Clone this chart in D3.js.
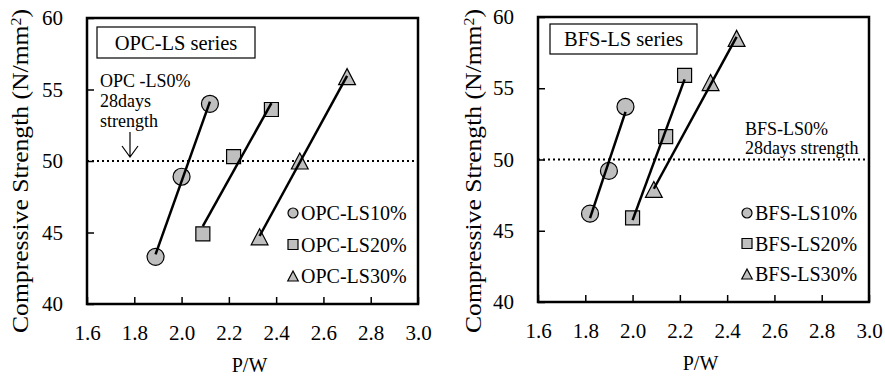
<!DOCTYPE html>
<html>
<head>
<meta charset="utf-8">
<script src="https://cdn.jsdelivr.net/npm/d3@7"></script>
<style>
  html, body { margin: 0; padding: 0; background: #fff; }
  svg text { font-family: "Liberation Serif", "Times New Roman", serif; fill: #000; }
</style>
</head>
<body>
<div id="container"></div>
<script>
// tick values
const xTicks = [1.6, 1.8, 2.0, 2.2, 2.4, 2.6, 2.8, 3.0]
const yTicks = [40, 45, 50, 55, 60]
const refStrength = 50

// OPC-LS series (P/W, strength)
const opc10X = [1.89, 2.00, 2.12]
const opc10Y = [43.3, 48.9, 54.0]
const opc20X = [2.09, 2.22, 2.38]
const opc20Y = [44.9, 50.3, 53.6]
const opc30X = [2.33, 2.50, 2.70]
const opc30Y = [44.7, 50.0, 55.9]

// BFS-LS series
const bfs10X = [1.82, 1.90, 1.97]
const bfs10Y = [46.2, 49.2, 53.7]
const bfs20X = [2.00, 2.14, 2.22]
const bfs20Y = [45.9, 51.6, 55.9]
const bfs30X = [2.09, 2.33, 2.44]
const bfs30Y = [47.9, 55.4, 58.5]

const opcNames = ['OPC-LS10%', 'OPC-LS20%', 'OPC-LS30%']
const bfsNames = ['BFS-LS10%', 'BFS-LS20%', 'BFS-LS30%']
const shapes = ['circle', 'square', 'triangle']

const config = {
    width: 885,
    height: 376,
    fill: '#bfbfbf',
}

const svg = d3.select('#container')
    .append('svg')
    .attr('width', config.width)
    .attr('height', config.height)

const zip = (xs, ys) => xs.map((x, i) => ({x: x, y: ys[i]}))

// least squares fit, drawn over the x-range of the points
const fitLine = (pts) => {
    const mx = d3.mean(pts, p => p.x)
    const my = d3.mean(pts, p => p.y)
    const b = d3.sum(pts, p => (p.x - mx) * (p.y - my)) / d3.sum(pts, p => (p.x - mx) ** 2)
    const a = my - b * mx
    const [x0, x1] = d3.extent(pts, p => p.x)
    return [{x: x0, y: a + b * x0}, {x: x1, y: a + b * x1}]
}

const markerPath = (shape, s) => {
    if (shape === 'circle') {
        const r = s / 2
        return `M${-r},0A${r},${r} 0 1,0 ${r},0A${r},${r} 0 1,0 ${-r},0Z`
    }
    if (shape === 'square') {
        const h = s / 2
        return `M${-h},${-h}H${h}V${h}H${-h}Z`
    }
    const w = s * 1.05, h = s
    return `M0,${-h / 2}L${w / 2},${h / 2}L${-w / 2},${h / 2}Z`
}

const markerSize = {circle: 17, square: 14, triangle: 16}
const legendSize = {circle: 10, square: 10, triangle: 10}

const drawPanel = (p) => {
    const xScale = d3.scaleLinear().domain([1.6, 3.0]).range([p.x0, p.x1])
    const yScale = d3.scaleLinear().domain([40, 60]).range([p.y1, p.y0])
    const g = svg.append('g')

    // axes with inward ticks
    const xAxis = g.append('g')
        .attr('transform', `translate(0,${p.y1})`)
        .call(d3.axisBottom(xScale).tickValues(xTicks).tickFormat(d3.format('.1f'))
            .tickSize(-7).tickPadding(21))
    const yAxis = g.append('g')
        .attr('transform', `translate(${p.x0},0)`)
        .call(d3.axisLeft(yScale).tickValues(yTicks).tickSize(-7).tickPadding(24))
    for (const ax of [xAxis, yAxis]) {
        ax.select('.domain').remove()
        ax.selectAll('.tick line').attr('stroke', '#000').attr('stroke-width', 1.5)
        ax.selectAll('.tick text')
            .style('font-family', '"Liberation Serif", serif')
            .style('font-size', '21px')
            .attr('fill', '#000')
    }

    // reference line
    g.append('line')
        .attr('x1', p.x0).attr('x2', p.x1)
        .attr('y1', yScale(refStrength)).attr('y2', yScale(refStrength))
        .attr('stroke', '#000')
        .attr('stroke-width', 2.2)
        .attr('stroke-dasharray', '2,3')

    // frame
    g.append('rect')
        .attr('x', p.x0).attr('y', p.y0)
        .attr('width', p.x1 - p.x0).attr('height', p.y1 - p.y0)
        .attr('fill', 'none')
        .attr('stroke', '#000')
        .attr('stroke-width', 2.5)

    // series markers
    p.series.forEach((pts, i) => {
        g.append('g')
            .selectAll('path')
            .data(pts)
            .join('path')
            .attr('transform', d => `translate(${xScale(d.x)},${yScale(d.y)})`)
            .attr('d', markerPath(shapes[i], markerSize[shapes[i]]))
            .attr('fill', config.fill)
            .attr('stroke', '#000')
            .attr('stroke-width', 1.2)
    })

    // fit lines on top of markers
    p.series.forEach(pts => {
        g.append('path')
            .datum(fitLine(pts))
            .attr('d', d3.line().x(d => xScale(d.x)).y(d => yScale(d.y)))
            .attr('fill', 'none')
            .attr('stroke', '#000')
            .attr('stroke-width', 2.5)
    })

    // title box
    g.append('rect')
        .attr('x', p.box[0]).attr('y', p.box[1])
        .attr('width', p.box[2]).attr('height', p.box[3])
        .attr('fill', '#fff')
        .attr('stroke', '#000')
        .attr('stroke-width', 1.2)
    g.append('text')
        .attr('x', p.box[0] + p.box[2] / 2)
        .attr('y', p.box[1] + p.box[3] / 2)
        .attr('text-anchor', 'middle')
        .attr('dominant-baseline', 'central')
        .style('font-size', '20.5px')
        .text(p.title)

    // legend
    p.names.forEach((name, i) => {
        const cy = p.legend.y + i * p.legend.step
        g.append('path')
            .attr('transform', `translate(${p.legend.x},${cy})`)
            .attr('d', markerPath(shapes[i], legendSize[shapes[i]]))
            .attr('fill', config.fill)
            .attr('stroke', '#000')
            .attr('stroke-width', 1.2)
        g.append('text')
            .attr('x', p.legend.x + 8)
            .attr('y', cy)
            .attr('dominant-baseline', 'central')
            .style('font-size', '20px')
            .text(name)
    })

    // axis titles
    g.append('text')
        .attr('x', (p.x0 + p.x1) / 2 - 3)
        .attr('y', p.y1 + 68)
        .attr('text-anchor', 'middle')
        .style('font-size', '20px')
        .text('P/W')
    const yt = g.append('text')
        .attr('transform', `translate(${p.ytx},171) rotate(-90) scale(1.14,1)`)
        .attr('text-anchor', 'middle')
        .style('font-size', '22.5px')
    yt.append('tspan').text('Compressive Strength (N/mm')
    yt.append('tspan').attr('baseline-shift', 'super').style('font-size', '14px').text('2')
    yt.append('tspan').text(')')

    return {g, xScale, yScale}
}

const left = drawPanel({
    x0: 87, x1: 418, y0: 18, y1: 304,
    series: [zip(opc10X, opc10Y), zip(opc20X, opc20Y), zip(opc30X, opc30Y)],
    names: opcNames,
    title: 'OPC-LS series',
    box: [97, 27, 158, 31],
    legend: {x: 293, y: 213, step: 31.5},
    ytx: 28,
})

const right = drawPanel({
    x0: 538, x1: 869, y0: 17, y1: 302,
    series: [zip(bfs10X, bfs10Y), zip(bfs20X, bfs20Y), zip(bfs30X, bfs30Y)],
    names: bfsNames,
    title: 'BFS-LS series',
    box: [550, 24, 147, 30],
    legend: {x: 747, y: 213, step: 30.5},
    ytx: 481,
})

// reference annotations
const noteLeft = left.g.append('text')
    .attr('x', 100)
    .attr('y', 87)
    .style('font-size', '18px')
noteLeft.append('tspan').attr('x', 100).text('OPC -LS0%')
noteLeft.append('tspan').attr('x', 100).attr('dy', 20).text('28days')
noteLeft.append('tspan').attr('x', 100).attr('dy', 20).text('strength')

left.g.append('path')
    .attr('d', 'M130,132V157M122,146L130,157L138,146')
    .attr('fill', 'none')
    .attr('stroke', '#000')
    .attr('stroke-width', 1.2)

const noteRight = right.g.append('text')
    .attr('x', 745)
    .attr('y', 135)
    .style('font-size', '18px')
noteRight.append('tspan').attr('x', 745).text('BFS-LS0%')
noteRight.append('tspan').attr('x', 745).attr('dy', 19).text('28days strength')
</script>
</body>
</html>
